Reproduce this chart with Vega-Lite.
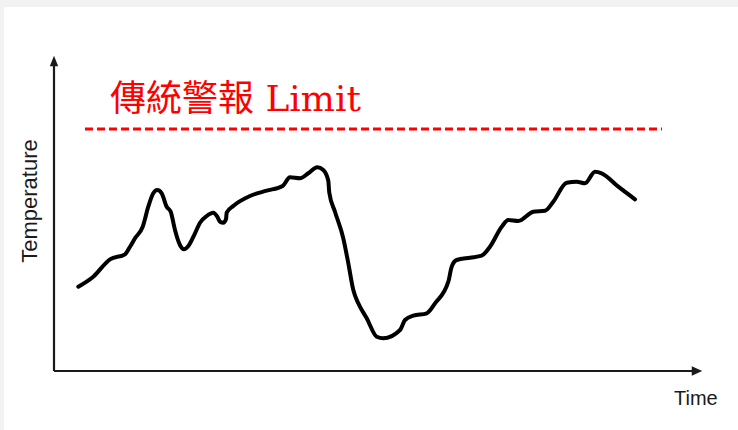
{
  "$schema": "https://vega.github.io/schema/vega-lite/v6.json",
  "width": 734,
  "height": 423,
  "autosize": "none",
  "padding": {"left": 4, "top": 7, "right": 0, "bottom": 0},
  "background": "#f2f2f2",
  "config": {"view": {"stroke": null, "fill": "#ffffff"}},
  "datasets": {
    "curve": [
      {"t": 3.75, "temp": 26.76}, {"t": 6.06, "temp": 29.94}, {"t": 8.64, "temp": 35.46},
      {"t": 10.96, "temp": 37.05}, {"t": 11.73, "temp": 39.46}, {"t": 12.5, "temp": 42.13},
      {"t": 13.69, "temp": 45.81}, {"t": 14.55, "temp": 52.16}, {"t": 15.32, "temp": 56.41},
      {"t": 15.94, "temp": 57.46}, {"t": 16.62, "temp": 56.41}, {"t": 17.39, "temp": 52.16},
      {"t": 18.01, "temp": 50.57}, {"t": 18.67, "temp": 44.76}, {"t": 19.44, "temp": 40.0},
      {"t": 20.06, "temp": 38.63}, {"t": 20.73, "temp": 39.68}, {"t": 21.76, "temp": 43.71},
      {"t": 22.53, "temp": 47.08}, {"t": 23.56, "temp": 49.21}, {"t": 24.58, "temp": 50.25},
      {"t": 25.2, "temp": 48.98}, {"t": 25.62, "temp": 47.4}, {"t": 26.13, "temp": 47.08},
      {"t": 26.54, "temp": 48.16}, {"t": 26.65, "temp": 50.25}, {"t": 27.67, "temp": 52.38},
      {"t": 30.25, "temp": 55.56}, {"t": 32.82, "temp": 57.24}, {"t": 35.29, "temp": 58.73},
      {"t": 36.42, "temp": 61.49}, {"t": 37.96, "temp": 61.17}, {"t": 39.24, "temp": 62.76},
      {"t": 40.63, "temp": 64.67}, {"t": 41.56, "temp": 63.81}, {"t": 42.33, "temp": 60.41},
      {"t": 42.48, "temp": 56.67}, {"t": 43.36, "temp": 50.57}, {"t": 44.64, "temp": 42.13},
      {"t": 45.42, "temp": 34.19}, {"t": 46.19, "temp": 25.71}, {"t": 46.96, "temp": 21.49},
      {"t": 48.26, "temp": 16.73}, {"t": 49.8, "temp": 10.89}, {"t": 50.82, "temp": 10.38},
      {"t": 53.4, "temp": 13.02}, {"t": 54.17, "temp": 16.19}, {"t": 55.45, "temp": 17.56},
      {"t": 57.52, "temp": 18.32}, {"t": 58.8, "temp": 21.49}, {"t": 60.85, "temp": 28.35},
      {"t": 61.37, "temp": 33.11}, {"t": 62.14, "temp": 35.24}, {"t": 64.2, "temp": 35.97},
      {"t": 66.0, "temp": 36.6}, {"t": 67.28, "temp": 39.46}, {"t": 69.09, "temp": 45.81},
      {"t": 70.11, "temp": 47.94}, {"t": 71.65, "temp": 47.62}, {"t": 73.97, "temp": 50.57},
      {"t": 75.77, "temp": 50.89}, {"t": 77.05, "temp": 53.75}, {"t": 79.12, "temp": 59.78},
      {"t": 80.66, "temp": 60.1}, {"t": 81.94, "temp": 59.59}, {"t": 83.49, "temp": 63.27},
      {"t": 84.52, "temp": 62.76}, {"t": 87.08, "temp": 58.51}, {"t": 89.66, "temp": 54.51}
    ],
    "axes": [
      {"name": "y", "t": 0, "temp": 0, "t2": 0, "temp2": 97},
      {"name": "x", "t": 0, "temp": 0, "t2": 98.5, "temp2": 0}
    ],
    "arrows": [
      {"name": "y", "t": 0, "temp": 98.41, "shape": "M0,-1L0.8,1L-0.8,1Z"},
      {"name": "x", "t": 99.23, "temp": 0, "shape": "M1,0L-1,-0.9L-1,0.9Z"}
    ],
    "limit": [
      {"t": 4.78, "t2": 93.83, "temp": 76.83}
    ],
    "title": [
      {"t": 8.64, "temp": 82.54, "label": "傳統警報 Limit"}
    ],
    "ylabel": [
      {"t": -2.62, "temp": 53.97, "label": "Temperature"}
    ],
    "xlabel": [
      {"t": 95.68, "temp": -10.79, "label": "Time"}
    ]
  },
  "encoding": {
    "x": {"field": "t", "type": "quantitative", "scale": {"domain": [-7.716, 105.556], "nice": false, "zero": false}, "axis": null},
    "y": {"field": "temp", "type": "quantitative", "scale": {"domain": [-18.73, 115.556], "nice": false, "zero": false}, "axis": null}
  },
  "layer": [
    {
      "data": {"name": "axes"},
      "mark": {"type": "rule", "color": "#1a1a1a", "strokeWidth": 2.2},
      "encoding": {"x2": {"field": "t2"}, "y2": {"field": "temp2"}}
    },
    {
      "data": {"name": "arrows"},
      "mark": {"type": "point", "filled": true, "color": "#1a1a1a", "opacity": 1, "size": 110},
      "encoding": {"shape": {"field": "shape", "type": "nominal", "scale": null}}
    },
    {
      "data": {"name": "limit"},
      "mark": {"type": "rule", "color": "#ff0000", "strokeWidth": 3, "strokeDash": [8, 4]},
      "encoding": {"x2": {"field": "t2"}}
    },
    {
      "data": {"name": "title"},
      "mark": {"type": "text", "align": "left", "baseline": "alphabetic", "font": "DejaVu Serif, Noto Sans CJK TC", "fontSize": 36, "color": "#ff0000"},
      "encoding": {"text": {"field": "label"}}
    },
    {
      "data": {"name": "ylabel"},
      "mark": {"type": "text", "align": "center", "baseline": "alphabetic", "angle": 270, "font": "Liberation Sans", "fontSize": 22, "color": "#1a1a1a"},
      "encoding": {"text": {"field": "label"}}
    },
    {
      "data": {"name": "xlabel"},
      "mark": {"type": "text", "align": "left", "baseline": "alphabetic", "font": "Liberation Sans", "fontSize": 20, "color": "#1a1a1a"},
      "encoding": {"text": {"field": "label"}}
    },
    {
      "data": {"name": "curve"},
      "mark": {"type": "line", "color": "#000000", "strokeWidth": 4, "interpolate": "monotone", "strokeCap": "round", "strokeJoin": "round"}
    }
  ]
}
